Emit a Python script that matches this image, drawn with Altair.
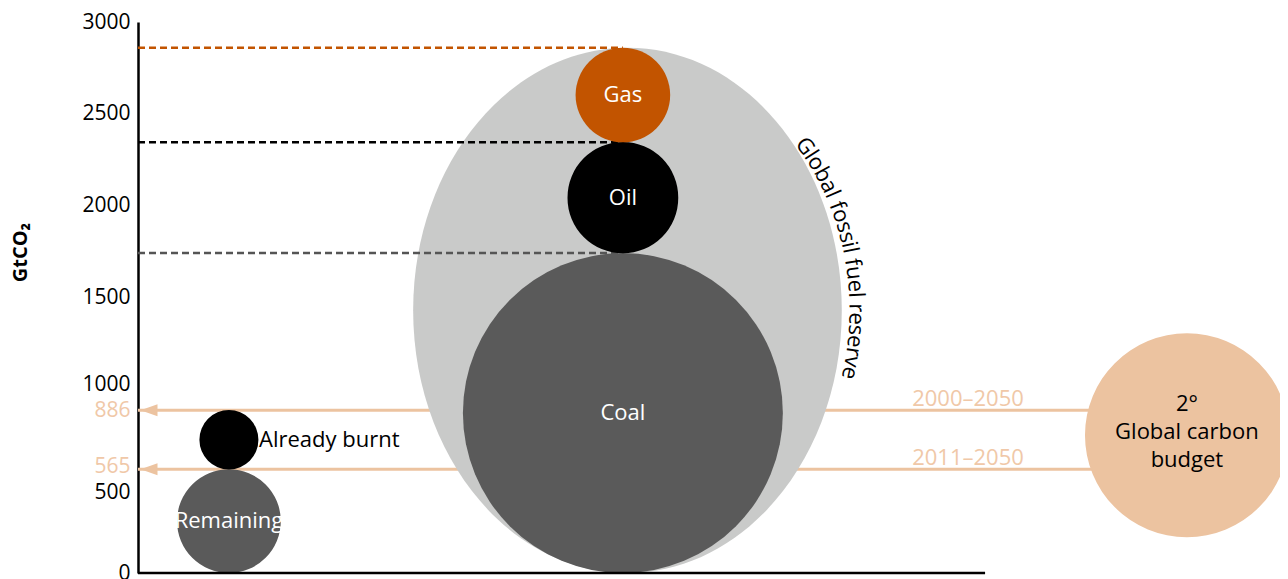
import math
import altair as alt
import pandas as pd

# ---------------- data (GtCO2) ----------------
reserve_names = ["Coal", "Oil", "Gas"]
reserve_values = [1742, 603, 515]            # stacked from 0 -> 2860
budget_names = ["Remaining", "Already burnt"]
budget_values = [565, 321]                   # stacked from 0 -> 886
budget_periods = ["2011–2050", "2000–2050"]
budget_levels = [565, 886]
y_ticks = [0, 500, 565, 886, 1000, 1500, 2000, 2500, 3000]
reserve_label = "Global fossil fuel reserve"
carbon_budget_lines = ["2°", "Global carbon", "budget"]
carbon_budget_diameter = 1110                # illustrative circle, GtCO2 units
carbon_budget_center = 750
y_title = "GtCO₂"

# ---------------- layout ----------------
W, H = 1142, 551
Y_MAX = 3000
K = H / Y_MAX                 # px per GtCO2 (same on both axes)
X_MAX = W / K
COL_LEFT = 495
COL_MID = 2640
COL_BUDGET = 5711
RESERVE_CX = 2665
RESERVE_RATIO = 0.816         # ellipse width / height
AXIS_END = 4612
PERIOD_LABEL_X = 4519
BURNT_LABEL_X = 659
TEXT_A, TEXT_B = 1247, 1416   # path of the curved label (units)
TEXT_T0 = 49.0                # start angle, degrees from top
LINE_GAP = 28                 # px between lines of the budget label
FONT = "Open Sans"

GRAY = "#5a5a5a"
BLACK = "#000000"
GAS = "#c25400"
PEACH = "#ecc3a0"
PEACH_TXT = "#f0c8a8"
LIGHT = "#c9cac9"

# ---------------- tables ----------------
fill = {"Coal": GRAY, "Oil": BLACK, "Gas": GAS, "Remaining": GRAY,
        "Already burnt": BLACK, "Budget": PEACH}
rows = []
lo = 0
for n, v in zip(reserve_names, reserve_values):
    rows.append(dict(name=n, x=COL_MID, y=lo + v / 2, top=lo + v, d=v))
    lo += v
reserve_total = lo
lo = 0
for n, v in zip(budget_names, budget_values):
    rows.append(dict(name=n, x=COL_LEFT, y=lo + v / 2, top=lo + v, d=v))
    lo += v
rows.append(dict(name="Budget", x=COL_BUDGET, y=carbon_budget_center, top=0,
                 d=carbon_budget_diameter))
circles = pd.DataFrame(rows)
circles["d2"] = circles["d"] ** 2
circles["col"] = circles["name"].map(fill)

reserve_df = pd.DataFrame([dict(x=RESERVE_CX, y=reserve_total / 2,
                                d2=reserve_total ** 2)])

dash_colors = {"Coal": "#555555", "Oil": BLACK, "Gas": GAS}
dash_df = circles[circles["name"].isin(reserve_names)][["name", "top"]].copy()
dash_df["x0"] = 0
dash_df["x1"] = COL_MID
dash_df["col"] = dash_df["name"].map(dash_colors)

arrow_df = pd.DataFrame(dict(level=budget_levels, period=budget_periods,
                             x0=0, x1=COL_BUDGET, lx=PERIOD_LABEL_X))

inner_txt = circles[circles["name"].isin(["Coal", "Oil", "Gas", "Remaining"])]
burnt = circles[circles["name"] == "Already burnt"].iloc[0]
burnt_df = pd.DataFrame([dict(x=BURNT_LABEL_X, y=burnt["y"], t="Already burnt")])
nl = len(carbon_budget_lines)
budget_txt = pd.DataFrame([
    dict(x=COL_BUDGET, t=s,
         y=carbon_budget_center + ((nl - 1) / 2 - i) * LINE_GAP / K + 3 / K)
    for i, s in enumerate(carbon_budget_lines)
])

# curved label along the reserve ellipse
em = {"G": .712, "l": .258, "o": .604, "b": .623, "a": .556, " ": .26, "f": .343,
      "s": .477, "i": .258, "u": .623, "e": .561, "r": .408, "v": .489}
FS = 22
a_px, b_px = TEXT_A * K, TEXT_B * K
def speed(t):
    return math.hypot(a_px * math.cos(t), b_px * math.sin(t))
chars = []
t = math.radians(TEXT_T0)
s_done = 0.0
cum = 0.0
dt = 0.0005
for ch in reserve_label:
    w = em.get(ch, .55) * FS
    target = cum + w / 2
    while s_done < target:
        s_done += speed(t) * dt
        t += dt
    if ch != " ":
        ang = math.degrees(math.atan2(b_px * math.sin(t), a_px * math.cos(t))) % 360
        chars.append(dict(ch=ch, x=RESERVE_CX + TEXT_A * math.sin(t),
                          y=reserve_total / 2 + TEXT_B * math.cos(t), angle=ang))
    cum += w
curve_df = pd.DataFrame(chars)

# ---------------- scales / encodings ----------------
xs = alt.Scale(domain=[0, X_MAX], nice=False, zero=False)
ys = alt.Scale(domain=[0, Y_MAX], nice=False)
ss = alt.Scale(type="linear", domain=[0, Y_MAX ** 2], range=[0, H ** 2])

y_axis = alt.Axis(
    values=y_ticks, format="d", ticks=False, grid=False, domainColor="black",
    domainWidth=2.5, labelFont=FONT, labelFontSize=21, labelPadding=8,
    labelOverlap=False, labelBound=False,
    labelColor={"condition": {"test": "datum.value == 565 || datum.value == 886",
                              "value": PEACH_TXT}, "value": "black"},
    labelOffset={"condition": [{"test": "datum.value == 500", "value": 11},
                               {"test": "datum.value == 565", "value": -3},
                               {"test": "datum.value == 1000", "value": -5}],
                 "value": 0},
    title=y_title, titleFont=FONT, titleFontSize=20, titleFontWeight="bold",
    titleColor="black", titleAngle=270, titleX=-118, titleY=230,
    titleAlign="center", titleBaseline="middle",
)


def X(f):
    return alt.X(f, type="quantitative", scale=xs, axis=None)


def Y(f):
    return alt.Y(f, type="quantitative", scale=ys, axis=y_axis, title=y_title)


arrows = alt.Chart(arrow_df).mark_rule(color=PEACH, strokeWidth=3).encode(
    x=X("x0"), x2="x1", y=Y("level"))

ellipse_path = (
    "M 0 -1 C {c} -1 {r} -{k} {r} 0 C {r} {k} {c} 1 0 1 "
    "C -{c} 1 -{r} {k} -{r} 0 C -{r} -{k} -{c} -1 0 -1 Z"
).format(r=RESERVE_RATIO, k=0.5523, c=round(0.5523 * RESERVE_RATIO, 4))

reserve = alt.Chart(reserve_df).mark_point(
    shape=ellipse_path, filled=True, opacity=1, strokeWidth=0, color=LIGHT
).encode(x=X("x"), y=Y("y"), size=alt.Size("d2:Q", scale=ss, legend=None))

dashes = alt.Chart(dash_df).mark_rule(strokeWidth=2.5, strokeDash=[7, 4]).encode(
    x=X("x0"), x2="x1", y=Y("top"), color=alt.Color("col:N", scale=None))

circ = alt.Chart(circles).mark_point(
    shape="circle", filled=True, opacity=1, strokeWidth=0
).encode(
    x=X("x"), y=Y("y"),
    size=alt.Size("d2:Q", scale=ss, legend=None),
    fill=alt.Fill("col:N", scale=None),
)

inner = alt.Chart(inner_txt).mark_text(
    font=FONT, fontSize=22, color="white", align="center", baseline="middle"
).encode(x=X("x"), y=Y("y"), text="name:N")

burnt_lbl = alt.Chart(burnt_df).mark_text(
    font=FONT, fontSize=22, color="black", align="left", baseline="middle"
).encode(x=X("x"), y=Y("y"), text="t:N")

budget_lbl = alt.Chart(budget_txt).mark_text(
    font=FONT, fontSize=22, color="black", align="center", baseline="middle"
).encode(x=X("x"), y=Y("y"), text="t:N")

period_lbl = alt.Chart(arrow_df).mark_text(
    font=FONT, fontSize=22, color=PEACH_TXT, align="center", baseline="alphabetic",
    dy=-4
).encode(x=X("lx"), y=Y("level"), text="period:N")

curve = alt.Chart(curve_df).mark_text(
    font=FONT, fontSize=FS, color="black", align="center", baseline="middle"
).encode(x=X("x"), y=Y("y"), text="ch:N", angle=alt.Angle("angle:Q", scale=None))

heads = alt.Chart(arrow_df).mark_point(
    shape="M -1 0 L 1 -0.7 L 1 0.7 Z", filled=True, opacity=1, strokeWidth=0,
    color=PEACH, size=289
).encode(x=X("x0"), y=Y("level"), xOffset=alt.value(11))

xaxis_df = pd.DataFrame([dict(x0=0, x1=AXIS_END, y=0)])
xaxis = alt.Chart(xaxis_df).mark_rule(color="black", strokeWidth=2.5).encode(
    x=X("x0"), x2="x1", y=Y("y"))

chart = alt.layer(
    arrows, reserve, dashes, circ, inner, burnt_lbl, budget_lbl, period_lbl,
    curve, heads, xaxis
).properties(
    width=W, height=H,
    padding={"left": 130, "top": 14, "right": 0, "bottom": 6},
    autosize=alt.AutoSizeParams(type="none"),
).configure(font=FONT).configure_view(stroke=None)

chart.save("out.html", embed_options={"renderer": "svg", "actions": False})
